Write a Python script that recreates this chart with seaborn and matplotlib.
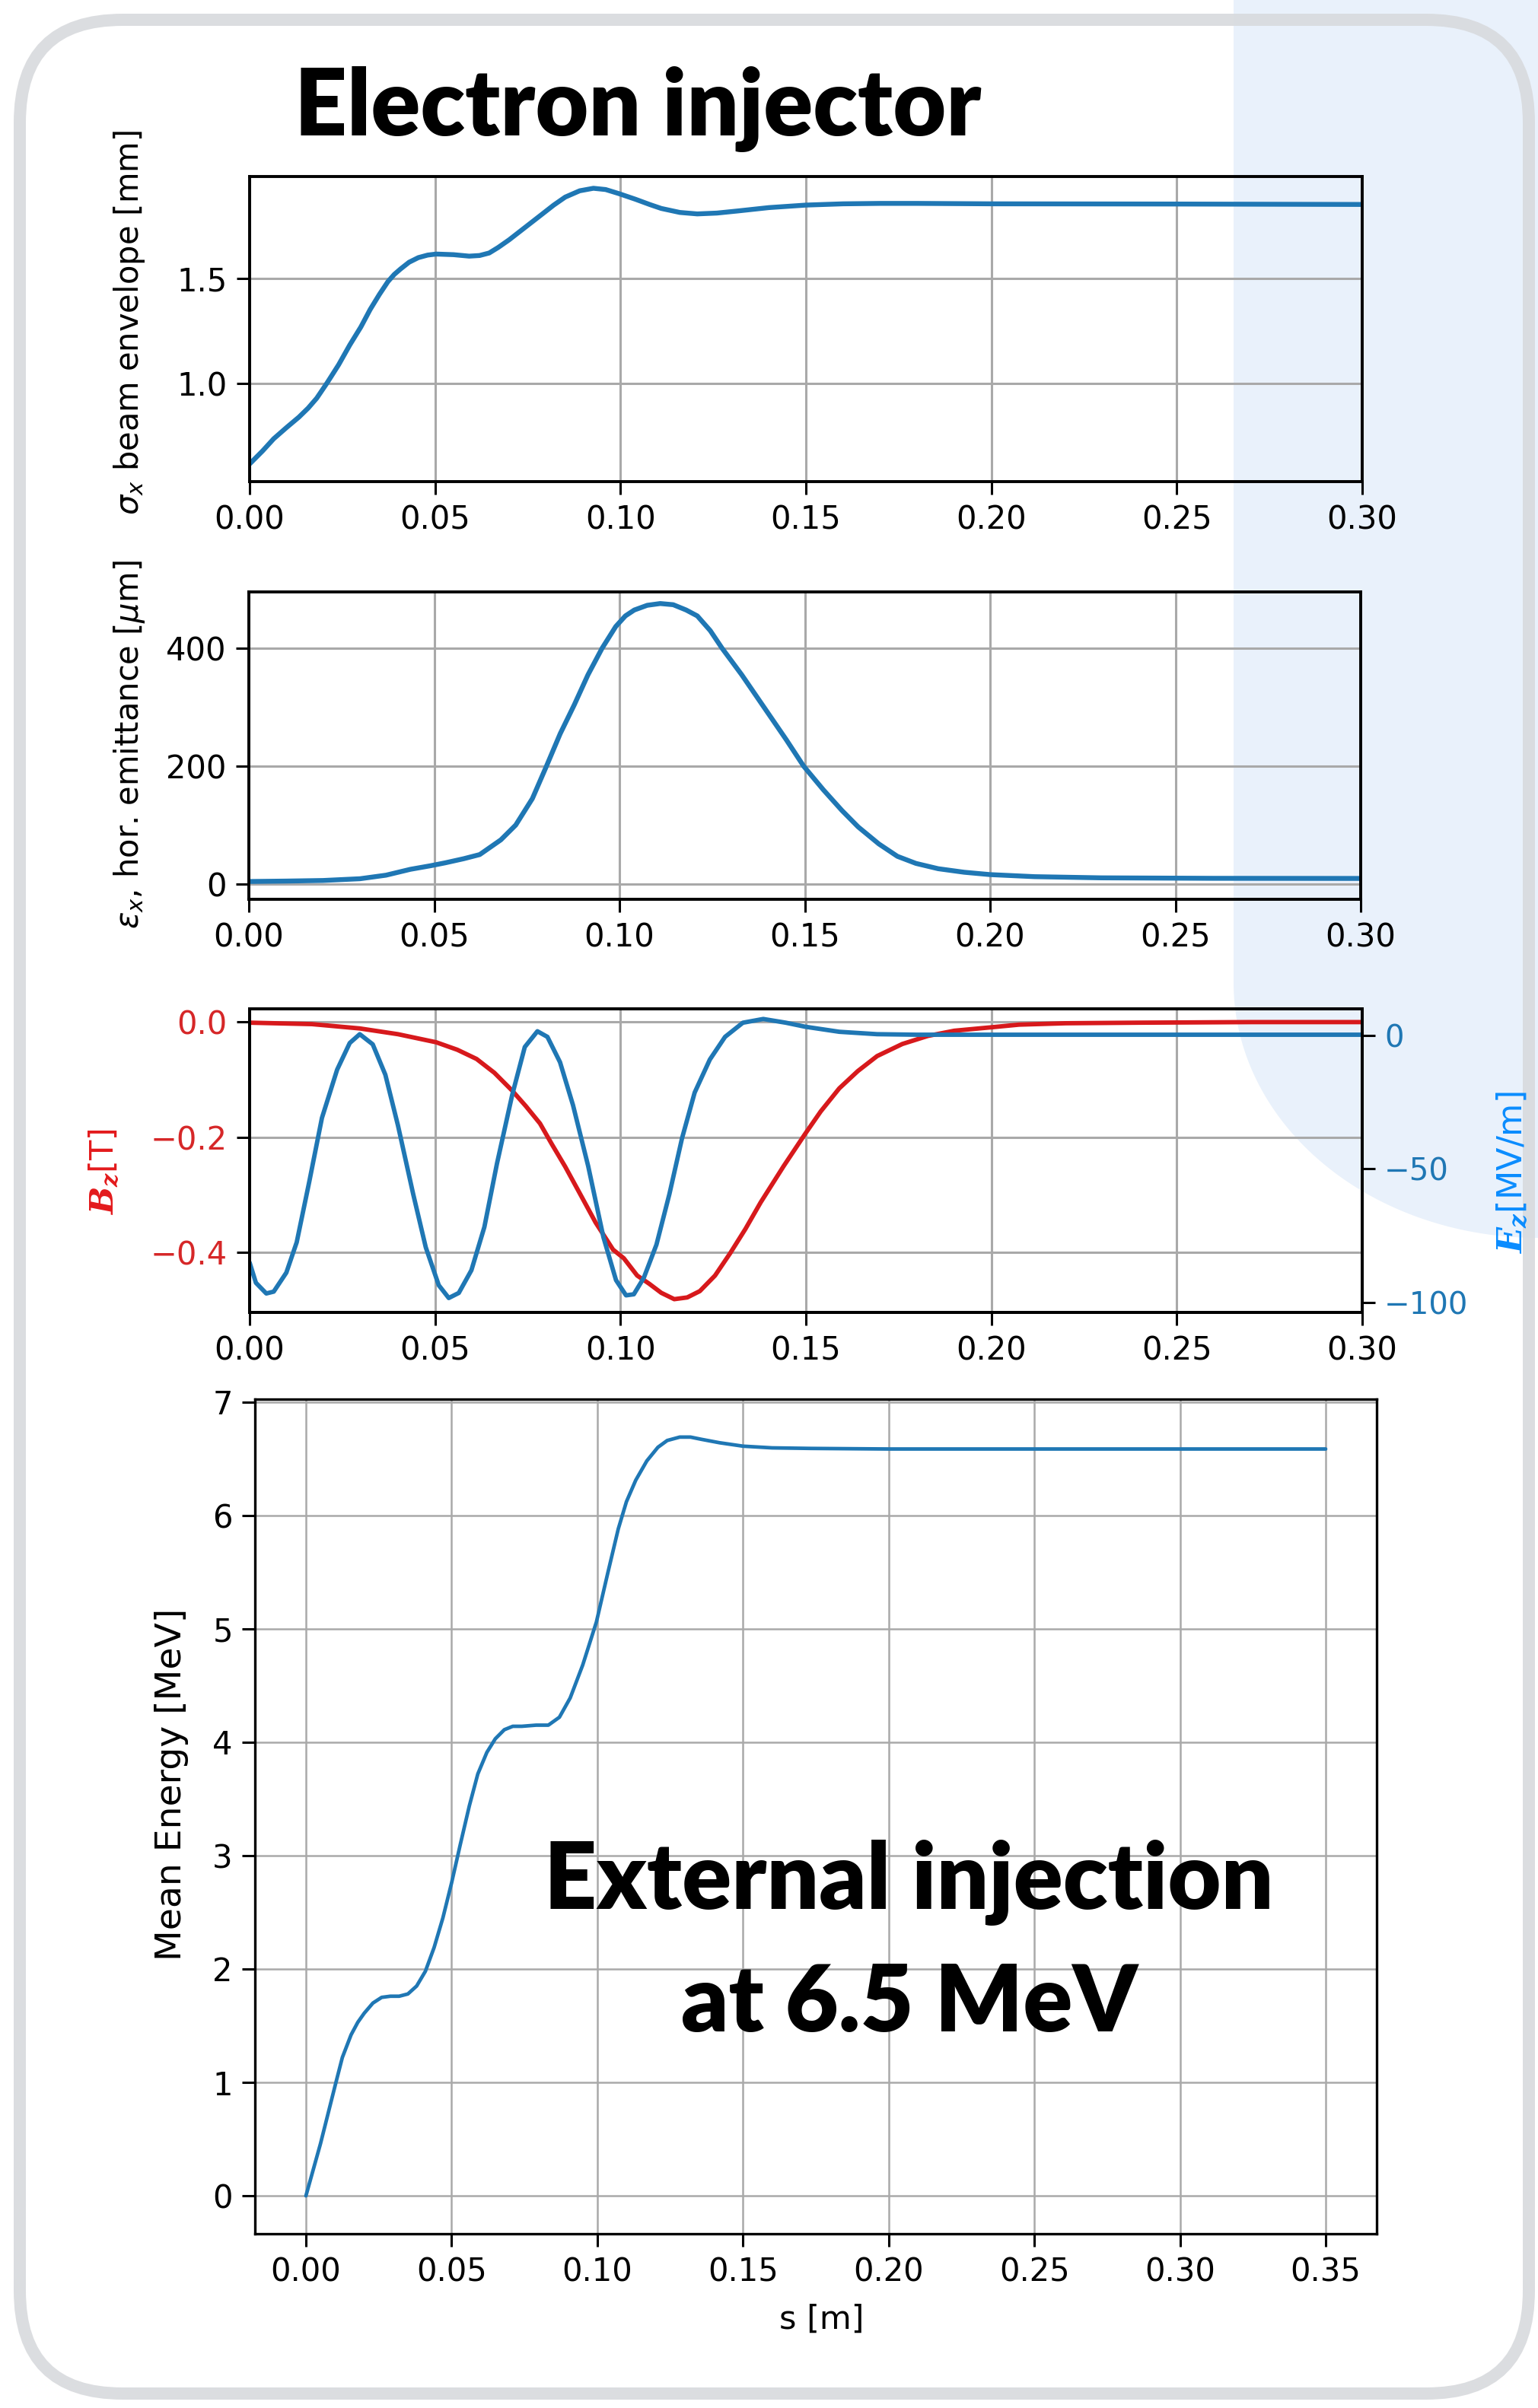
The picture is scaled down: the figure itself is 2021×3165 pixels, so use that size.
import numpy as np
import matplotlib
matplotlib.use("Agg")
import matplotlib.pyplot as plt
import seaborn as sns
from matplotlib.patches import FancyBboxPatch, Polygon

# ---------------- data ----------------
s_env = [0, 0.0035, 0.0065, 0.010, 0.0133, 0.0158, 0.0181, 0.0209, 0.024, 0.027, 0.030,
         0.0325, 0.035, 0.0373, 0.039, 0.0407, 0.043, 0.0455, 0.048, 0.0503, 0.055, 0.0592,
         0.062, 0.0646, 0.067, 0.070, 0.074, 0.0783, 0.082, 0.0851, 0.089, 0.0927, 0.096,
         0.0995, 0.104, 0.108, 0.111, 0.116, 0.1207, 0.126, 0.1316, 0.14, 0.15, 0.16,
         0.17, 0.18, 0.20, 0.25, 0.30]
sigma_x = [0.618, 0.680, 0.738, 0.792, 0.841, 0.884, 0.931, 1.004, 1.090, 1.184, 1.270,
           1.353, 1.425, 1.486, 1.520, 1.546, 1.578, 1.600, 1.612, 1.617, 1.614, 1.607,
           1.610, 1.622, 1.648, 1.685, 1.740, 1.799, 1.850, 1.888, 1.918, 1.930, 1.924,
           1.905, 1.878, 1.852, 1.834, 1.815, 1.808, 1.812, 1.822, 1.838, 1.850, 1.856,
           1.858, 1.858, 1.856, 1.855, 1.853]

s_emit = [0, 0.010, 0.020, 0.030, 0.037, 0.0436, 0.0490, 0.0530, 0.0580, 0.0623, 0.068,
          0.072, 0.0765, 0.0803, 0.0840, 0.0878, 0.0915, 0.0953, 0.0990, 0.1016, 0.104,
          0.1075, 0.111, 0.1145, 0.118, 0.121, 0.1245, 0.1277, 0.133, 0.1390, 0.1450,
          0.1497, 0.155, 0.160, 0.1644, 0.170, 0.175, 0.180, 0.186, 0.193, 0.200, 0.212,
          0.230, 0.260, 0.300]
emit_x = [4.3, 5.0, 6.0, 9.0, 15, 25, 31, 36, 43, 50, 75, 100, 145, 200, 255, 304, 355,
          400, 437, 455, 465, 473, 476, 474, 465, 455, 430, 400, 355, 300, 245, 200, 160,
          125, 97, 68, 47, 35, 26, 20, 16, 12.5, 10.5, 9.7, 9.5]

s_bz = [0, 0.0168, 0.0297, 0.040, 0.0503, 0.0560, 0.0612, 0.066, 0.0708, 0.0745, 0.0783,
        0.0815, 0.0851, 0.0890, 0.0933, 0.098, 0.1009, 0.1045, 0.1077, 0.1110, 0.1145,
        0.118, 0.1214, 0.1255, 0.1296, 0.1337, 0.1378, 0.144, 0.1498, 0.154, 0.159, 0.164,
        0.1692, 0.176, 0.1829, 0.190, 0.200, 0.2075, 0.22, 0.24, 0.27, 0.30]
b_z = [-0.001, -0.0035, -0.011, -0.021, -0.035, -0.048, -0.064, -0.088, -0.119, -0.146,
       -0.176, -0.212, -0.251, -0.297, -0.348, -0.395, -0.410, -0.440, -0.454, -0.470,
       -0.481, -0.478, -0.467, -0.440, -0.401, -0.359, -0.313, -0.250, -0.194, -0.155,
       -0.115, -0.085, -0.059, -0.038, -0.024, -0.015, -0.009, -0.0044, -0.002, -0.001,
       0.0, 0.0]

s_ez = [0, 0.0017, 0.0045, 0.0065, 0.0099, 0.0127, 0.0161, 0.0195, 0.0236, 0.027, 0.0297,
        0.0332, 0.0366, 0.04, 0.0441, 0.0475, 0.051, 0.0537, 0.0564, 0.0598, 0.0633, 0.0667,
        0.0708, 0.0742, 0.0776, 0.0803, 0.0837, 0.0872, 0.0913, 0.0954, 0.0988, 0.1015,
        0.1036, 0.1063, 0.1097, 0.1132, 0.1166, 0.12, 0.1241, 0.1282, 0.133, 0.1385,
        0.1446, 0.1498, 0.159, 0.1692, 0.18, 0.20, 0.25, 0.30]
e_z = [-85.1, -92.7, -96.7, -96.0, -88.9, -77.5, -54.7, -30.9, -12.8, -2.8, 0.5, -3.3,
       -14.7, -33.7, -59.4, -79.4, -93.6, -98.4, -96.5, -88.0, -71.8, -48.0, -22.3, -4.3,
       1.6, -0.5, -10.0, -26.1, -49.0, -75.6, -91.7, -97.4, -97.0, -90.8, -78.4, -59.4,
       -38.5, -21.4, -9.0, -0.5, 4.8, 6.2, 4.8, 3.3, 1.4, 0.5, 0.3, 0.3, 0.3, 0.3]

s_en = [0, 0.005, 0.0102, 0.0125, 0.0155, 0.0178, 0.020, 0.023, 0.026, 0.029, 0.032, 0.035,
        0.038, 0.041, 0.044, 0.047, 0.050, 0.053, 0.0561, 0.059, 0.0621, 0.065, 0.0681,
        0.071, 0.0741, 0.079, 0.0832, 0.087, 0.0907, 0.095, 0.0997, 0.1035, 0.1072, 0.110,
        0.1132, 0.117, 0.1208, 0.124, 0.1283, 0.132, 0.1358, 0.142, 0.15, 0.16, 0.1734,
        0.20, 0.25, 0.30, 0.35]
energy = [0, 0.46, 0.99, 1.22, 1.42, 1.53, 1.61, 1.70, 1.75, 1.76, 1.76, 1.78, 1.85, 1.98,
          2.19, 2.45, 2.76, 3.10, 3.44, 3.72, 3.91, 4.03, 4.11, 4.14, 4.14, 4.15, 4.15,
          4.22, 4.39, 4.68, 5.06, 5.48, 5.88, 6.12, 6.31, 6.48, 6.60, 6.66, 6.69, 6.69,
          6.67, 6.64, 6.61, 6.595, 6.59, 6.585, 6.585, 6.585, 6.585]

xticks_top = [0.0, 0.05, 0.10, 0.15, 0.20, 0.25, 0.30]
xticks_bottom = [0.0, 0.05, 0.10, 0.15, 0.20, 0.25, 0.30, 0.35]

# ---------------- style ----------------
sns.set_theme(style="ticks")
plt.rcParams['font.family'] = ['DejaVu Sans']
plt.rcParams['text.color'] = 'black'
plt.rcParams['axes.labelcolor'] = 'black'
plt.rcParams['xtick.color'] = 'black'
plt.rcParams['ytick.color'] = 'black'
plt.rcParams['axes.edgecolor'] = 'black'
plt.rcParams['mathtext.fontset'] = 'dejavusans'
plt.rcParams['mathtext.it'] = 'DejaVu Serif:italic:bold'
plt.rcParams['mathtext.rm'] = 'DejaVu Sans'
plt.rcParams['mathtext.bf'] = 'DejaVu Serif:bold'

W, H = 2021, 3165
DPI = 100
fig = plt.figure(figsize=(W / DPI, H / DPI), dpi=DPI, facecolor='white')


def rect(l, t, r, b):
    return [l / W, 1 - b / H, (r - l) / W, (b - t) / H]


BLUE = '#1f77b4'
GRID = '#a9a9a9'


def style(ax, fs=30, spine_lw=2.8, grid_lw=2.2):
    ax.set_facecolor('none')
    ax.grid(True, color=GRID, lw=grid_lw)
    ax.set_axisbelow(True)
    for sp in ax.spines.values():
        sp.set_visible(True)
        sp.set_linewidth(spine_lw)
        sp.set_color('black')
    ax.tick_params(labelsize=fs, length=12, width=2.2, pad=9, colors='black')


# background: blue area, then the rounded frame
bg = fig.add_axes([0, 0, 1, 1], zorder=-5)
bg.set_xlim(0, W)
bg.set_ylim(H, 0)
bg.axis('off')
t = np.linspace(0, np.pi / 2, 80)
cx, cy, rx, ry = 2021, 1292, 400, 335
verts = [(1621, -5)] + list(zip(cx - rx * np.cos(t), cy + ry * np.sin(t))) + \
        [(W + 5, 1627), (W + 5, -5)]
bg.add_patch(Polygon(verts, closed=True, fc='#e9f1fb', ec='none', zorder=1))
bg.add_patch(FancyBboxPatch((26, 26), 2009 - 26, 3146 - 26,
                            boxstyle="round,pad=0,rounding_size=135",
                            fill=False, ec='#d8dadd', lw=16 * 72 / DPI, alpha=0.9,
                            zorder=2))

# ---------------- panel 1: beam envelope ----------------
ax1 = fig.add_axes(rect(328, 232, 1790, 633))
sns.lineplot(x=s_env, y=sigma_x, ax=ax1, color=BLUE, linewidth=4.6)
ax1.set_xlim(0, 0.30)
ax1.set_ylim(0.534, 1.986)
ax1.set_xticks(xticks_top)
ax1.set_xticklabels([f"{v:.2f}" for v in xticks_top])
ax1.set_yticks([1.0, 1.5])
ax1.set_yticklabels(["1.0", "1.5"])
style(ax1)
ax1.set_ylabel(r"$\sigma_x$ beam envelope [mm]", fontsize=30, va='center')
ax1.yaxis.set_label_coords((170 - 328) / 1462, (633 - 424) / 401)

# ---------------- panel 2: emittance ----------------
ax2 = fig.add_axes(rect(327, 778, 1788, 1182))
sns.lineplot(x=s_emit, y=emit_x, ax=ax2, color=BLUE, linewidth=4.6)
ax2.set_xlim(0, 0.30)
ax2.set_ylim(-25.9, 495.7)
ax2.set_xticks(xticks_top)
ax2.set_xticklabels([f"{v:.2f}" for v in xticks_top])
ax2.set_yticks([0, 200, 400])
style(ax2)
ax2.set_ylabel(r"$\epsilon_x$, hor. emittance [$\mu$m]", fontsize=30, va='center')
ax2.yaxis.set_label_coords((170 - 327) / 1461, (1182 - 979) / 404)

# ---------------- panel 3: fields ----------------
ax3 = fig.add_axes(rect(328, 1326, 1790, 1725))
ax3r = ax3.twinx()
sns.lineplot(x=s_bz, y=b_z, ax=ax3, color='#d7191c', linewidth=4.2)
sns.lineplot(x=s_ez, y=e_z, ax=ax3r, color=BLUE, linewidth=4.2)
ax3.set_xlim(0, 0.30)
ax3.set_ylim(-0.504, 0.023)
ax3r.set_ylim(-103.8, 10.0)
ax3.set_xticks(xticks_top)
ax3.set_xticklabels([f"{v:.2f}" for v in xticks_top])
ax3.set_yticks([0.0, -0.2, -0.4])
ax3.set_yticklabels(["0.0", "\u22120.2", "\u22120.4"])
ax3r.set_yticks([0, -50, -100])
ax3r.set_yticklabels(["0", "\u221250", "\u2212100"])
style(ax3)
ax3r.set_facecolor('none')
ax3r.grid(False)
for sp in ax3r.spines.values():
    sp.set_linewidth(2.8)
    sp.set_color('black')
ax3r.tick_params(labelsize=29, length=12, width=2.2, pad=9, colors='black')
for lab in ax3.get_yticklabels():
    lab.set_color('#d62728')
for lab in ax3r.get_yticklabels():
    lab.set_color(BLUE)
ax3.set_ylabel(r"$B_z$[T]", fontsize=31, color='#e31a1c', va='center',
               math_fontfamily='custom')
ax3.yaxis.set_label_coords((137 - 328) / 1462, (1725 - 1540) / 399)
ax3r.set_ylabel(r"$E_z$[MV/m]", fontsize=32, color='#0a8cff', va='center',
                rotation=90, math_fontfamily='custom')
ax3r.yaxis.set_label_coords((1987 - 328) / 1462, (1725 - 1541) / 399)
ax3r.yaxis.label.set_verticalalignment('center')

# ---------------- panel 4: mean energy ----------------
ax4 = fig.add_axes(rect(335, 1839, 1809, 2936))
sns.lineplot(x=s_en, y=energy, ax=ax4, color=BLUE, linewidth=3.4)
ax4.set_xticks(xticks_bottom)
ax4.set_xticklabels([f"{v:.2f}" for v in xticks_bottom])
ax4.set_yticks(range(0, 8))
style(ax4, fs=30, spine_lw=2.4, grid_lw=1.8)
ax4.set_ylabel("Mean Energy [MeV]", fontsize=34, va='center')
ax4.yaxis.set_label_coords((226 - 335) / 1474, (2936 - 2345) / 1097)
ax4.set_xlabel("s [m]", fontsize=31, va='center')
ax4.xaxis.set_label_coords((1080 - 335) / 1474, (2936 - 3049) / 1097)

# ---------------- big annotations ----------------
title = fig.text(838 / W, 1 - 178 / H, "Electron injector", ha='center', va='baseline',
                 fontsize=90, fontweight='heavy', family=['Lato', 'DejaVu Sans'])
ann1 = fig.text(1194 / W, 1 - 2509 / H, "External injection", ha='center', va='baseline',
                fontsize=85, fontweight='heavy', family=['Lato', 'DejaVu Sans'])
ann2 = fig.text(1195 / W, 1 - 2670 / H, "at 6.5 MeV", ha='center', va='baseline',
                fontsize=85, fontweight='heavy', family=['Lato', 'DejaVu Sans'])

fig.canvas.draw()
renderer = fig.canvas.get_renderer()
for txt, target in ((title, 902), (ann1, 958)):
    w = txt.get_window_extent(renderer).width
    txt.set_fontsize(txt.get_fontsize() * target / w)
ann2.set_fontsize(ann1.get_fontsize())

fig.savefig("out.png", dpi=DPI, facecolor='white')
